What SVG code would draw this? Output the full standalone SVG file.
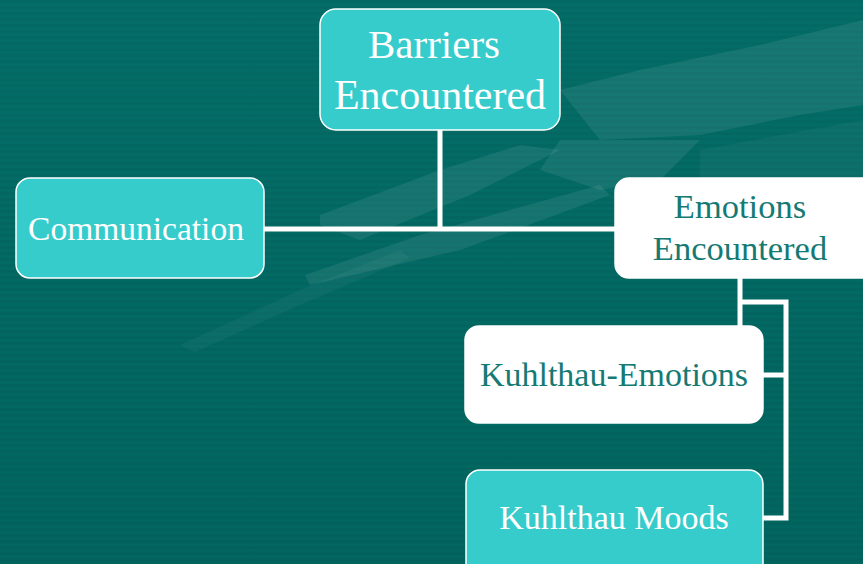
<svg xmlns="http://www.w3.org/2000/svg" width="863" height="564" viewBox="0 0 863 564">
  <defs>
    <pattern id="stripes" width="8" height="6" patternUnits="userSpaceOnUse">
      <rect width="8" height="3" fill="#000000" opacity="0.04"/>
    </pattern>
    <linearGradient id="bg" x1="0" y1="0" x2="0" y2="1">
      <stop offset="0" stop-color="#046D68"/>
      <stop offset="1" stop-color="#02655F"/>
    </linearGradient>
  </defs>
  <style>
    .box-teal { fill: #36CCCC; stroke: #FFFFFF; stroke-width: 1.5; }
    .box-white { fill: #FFFFFF; stroke: #FFFFFF; stroke-width: 1.5; }
    .lbl { font-family: "Liberation Serif", "DejaVu Serif", serif; text-anchor: middle; }
    .lbl-light { fill: #FFFFFF; }
    .lbl-dark { fill: #157A74; }
    .wire { fill: none; stroke: #FFFFFF; stroke-width: 5; }
    .swoosh { fill: #FFFFFF; opacity: 0.08; }
    .swoosh-faint { fill: #FFFFFF; opacity: 0.04; }
  </style>

  <!-- background -->
  <rect width="863" height="564" fill="url(#bg)"/>
  <rect width="863" height="564" fill="url(#stripes)"/>

  <!-- decorative wing shapes -->
  <g id="backdrop">
    <polygon class="swoosh" points="863,20 760,45 640,70 560,90 600,140 700,135 800,115 863,105"/>
    <polygon class="swoosh" points="560,140 700,140 660,180 600,190 540,170"/>
    <polygon class="swoosh-faint" points="700,150 863,120 863,200 780,220 700,190"/>
    <polygon class="swoosh" points="320,215 440,170 520,145 560,150 470,195 360,240 320,225"/>
    <polygon class="swoosh" points="305,275 420,235 600,185 610,195 460,250 310,285"/>
    <polygon class="swoosh-faint" points="180,345 300,290 400,250 410,258 300,305 195,352"/>
  </g>

  <!-- connectors -->
  <g id="connectors">
    <line class="wire" x1="440" y1="130" x2="440" y2="231"/>
    <line class="wire" x1="264" y1="229" x2="615" y2="229"/>
    <line class="wire" x1="740" y1="278" x2="740" y2="326"/>
    <polyline class="wire" points="740,302 786,302 786,518 763,518"/>
    <line class="wire" x1="763" y1="375" x2="786" y2="375"/>
  </g>

  <g id="barriers">
    <rect class="box-teal" x="320" y="9" width="240" height="121" rx="16"/>
    <text class="lbl lbl-light" x="434" y="58" font-size="41">Barriers</text>
    <text class="lbl lbl-light" x="440" y="109" font-size="42">Encountered</text>
  </g>

  <g id="communication">
    <rect class="box-teal" x="16" y="178" width="248" height="100" rx="14"/>
    <text class="lbl lbl-light" x="136" y="240" font-size="33.5">Communication</text>
  </g>

  <g id="emotions">
    <rect class="box-white" x="615" y="178" width="262" height="100" rx="14"/>
    <text class="lbl lbl-dark" x="740" y="218" font-size="34.5">Emotions</text>
    <text class="lbl lbl-dark" x="740" y="260" font-size="34.5">Encountered</text>
  </g>

  <g id="kuhlthau-emotions">
    <rect class="box-white" x="465" y="326" width="298" height="97" rx="14"/>
    <text class="lbl lbl-dark" x="614" y="386" font-size="34">Kuhlthau-Emotions</text>
  </g>

  <g id="kuhlthau-moods">
    <rect class="box-teal" x="466" y="470" width="297" height="110" rx="14"/>
    <text class="lbl lbl-light" x="614" y="529" font-size="34">Kuhlthau Moods</text>
  </g>
</svg>
